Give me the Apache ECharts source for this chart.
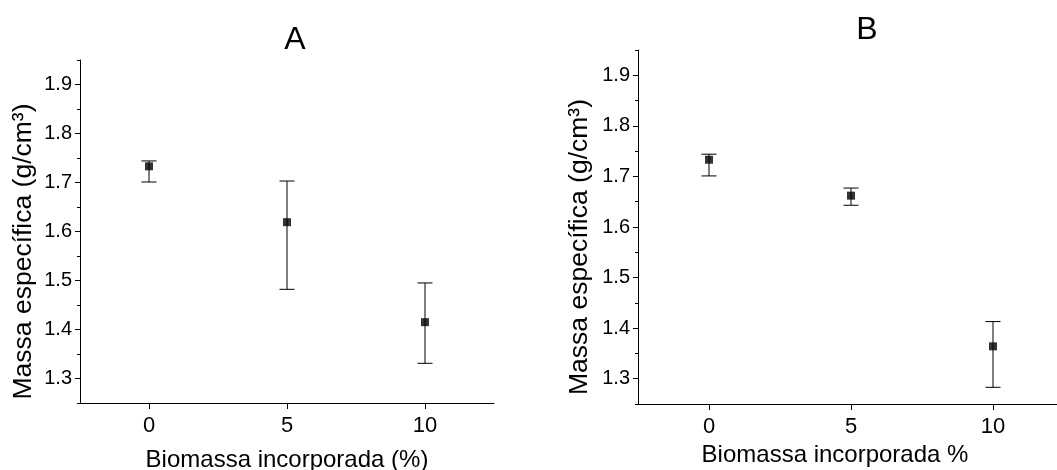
<!DOCTYPE html>
<html>
<head>
<meta charset="utf-8">
<title>Massa específica</title>
<script src="https://cdn.jsdelivr.net/npm/echarts@6/dist/echarts.min.js"></script>
<style>
  html, body { margin: 0; padding: 0; background: #fff; }
  #chart { width: 1057px; height: 470px; }
</style>
</head>
<body>
<div id="chart"></div>
<script>
// Biomass content (%) on the x axis
const biomassa = [0, 5, 10];

// Panel A: mean density with error bar limits
const mediaA = [1.733, 1.619, 1.415];
const superiorA = [1.744, 1.703, 1.495];
const inferiorA = [1.701, 1.482, 1.331];

// Panel B: mean density with error bar limits
const mediaB = [1.733, 1.662, 1.364];
const superiorB = [1.744, 1.677, 1.413];
const inferiorB = [1.701, 1.643, 1.283];

// Axis ticks
const yMajor = [1.3, 1.4, 1.5, 1.6, 1.7, 1.8, 1.9];
const yMinor = [1.25, 1.35, 1.45, 1.55, 1.65, 1.75, 1.85, 1.95];
const xTicks = [0, 5, 10];

const FONT = 'Liberation Sans, Arial, sans-serif';
const INK = '#000';

function grids() {
  return [
    { left: 80, top: 60, right: 563, bottom: 67, containLabel: false, outerBoundsMode: 'none' },
    { left: 638, top: 50, right: -7, bottom: 66, containLabel: false, outerBoundsMode: 'none' }
  ];
}

function xAxisFor(grid, name, namePad, nameGap) {
  return {
    type: 'value', gridIndex: grid, min: -2.5, max: 12.5,
    name: name, nameLocation: 'middle', nameGap: nameGap,
    nameTextStyle: { fontFamily: FONT, fontSize: 24, color: INK, padding: namePad },
    axisLine: { show: true, onZero: false, lineStyle: { color: INK, width: 1 } },
    axisTick: { show: true, customValues: xTicks, length: 6, inside: false, lineStyle: { color: INK } },
    axisLabel: { customValues: xTicks, fontFamily: FONT, fontSize: 22, color: INK, margin: 12 },
    splitLine: { show: false }
  };
}

function yAxisMain(grid, nameGap) {
  return {
    type: 'value', gridIndex: grid, min: 1.25, max: 1.95, position: 'left',
    name: 'Massa específica (g/cm³)', nameLocation: 'middle', nameGap: nameGap, nameRotate: 90,
    nameTextStyle: { fontFamily: FONT, fontSize: 26.5, color: INK, padding: [0, 40, 0, 0] },
    axisLine: { show: true, onZero: false, lineStyle: { color: INK, width: 1 } },
    axisTick: { show: true, customValues: yMajor, length: 5, lineStyle: { color: INK } },
    axisLabel: {
      customValues: yMajor, fontFamily: FONT, fontSize: 20, color: INK, margin: 8,
      formatter: v => v.toFixed(1)
    },
    splitLine: { show: false }
  };
}

function yAxisMinor(grid) {
  return {
    type: 'value', gridIndex: grid, min: 1.25, max: 1.95, position: 'left',
    axisLine: { show: false, onZero: false },
    axisTick: { show: true, customValues: yMinor, length: 3, lineStyle: { color: INK } },
    axisLabel: { show: false },
    splitLine: { show: false }
  };
}

function errorSeries(axisIdx, upper, lower) {
  const data = biomassa.map((x, i) => [x, lower[i], upper[i]]);
  return {
    type: 'custom', xAxisIndex: axisIdx, yAxisIndex: axisIdx * 2,
    data: data, silent: true, z: 2,
    renderItem: function (params, api) {
      const x = api.value(0);
      const lo = api.coord([x, api.value(1)]);
      const hi = api.coord([x, api.value(2)]);
      const half = 7.5;
      const style = { stroke: INK, lineWidth: 1 };
      return {
        type: 'group',
        children: [
          { type: 'line', shape: { x1: hi[0], y1: hi[1], x2: lo[0], y2: lo[1] }, style: style },
          { type: 'line', shape: { x1: hi[0] - half, y1: hi[1], x2: hi[0] + half, y2: hi[1] }, style: style },
          { type: 'line', shape: { x1: lo[0] - half, y1: lo[1], x2: lo[0] + half, y2: lo[1] }, style: style }
        ]
      };
    }
  };
}

function pointSeries(axisIdx, mean) {
  return {
    type: 'scatter', xAxisIndex: axisIdx, yAxisIndex: axisIdx * 2,
    data: biomassa.map((x, i) => [x, mean[i]]),
    symbol: 'rect', symbolSize: 8, z: 3, silent: true,
    itemStyle: { color: INK }
  };
}

const chart = echarts.init(document.getElementById('chart'), null, { renderer: 'canvas' });
chart.setOption({
  backgroundColor: '#fff',
  animation: false,
  title: [
    { text: 'A', left: 290, top: 35, textAlign: 'center', textVerticalAlign: 'middle',
      textStyle: { fontFamily: FONT, fontSize: 32, fontWeight: 'normal', color: INK } },
    { text: 'B', left: 862, top: 25, textAlign: 'center', textVerticalAlign: 'middle',
      textStyle: { fontFamily: FONT, fontSize: 32, fontWeight: 'normal', color: INK } }
  ],
  grid: grids(),
  xAxis: [
    xAxisFor(0, 'Biomassa incorporada (%)', [0, 0, 0, 0], 45),
    xAxisFor(1, 'Biomassa incorporada %', [0, 32, 0, 0], 30)
  ],
  yAxis: [
    yAxisMain(0, 43), yAxisMinor(0),
    yAxisMain(1, 45), yAxisMinor(1)
  ],
  series: [
    errorSeries(0, superiorA, inferiorA),
    pointSeries(0, mediaA),
    errorSeries(1, superiorB, inferiorB),
    pointSeries(1, mediaB)
  ]
});
</script>
</body>
</html>
